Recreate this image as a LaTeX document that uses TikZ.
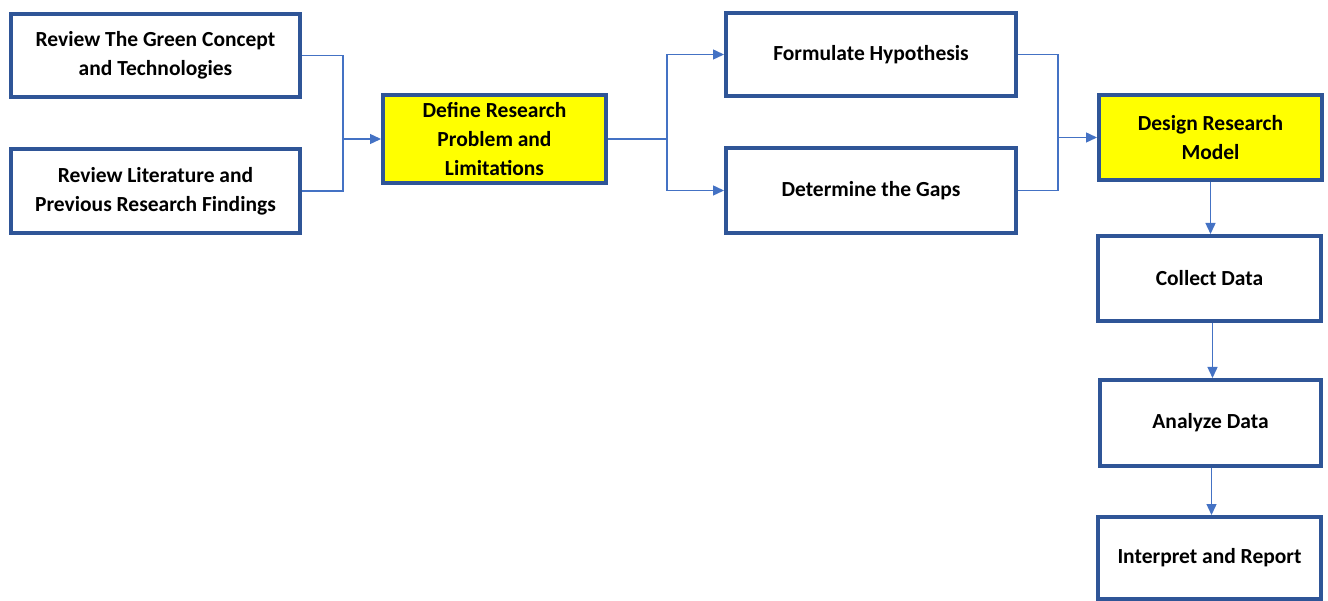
\documentclass[tikz,border=0pt]{standalone}
\usepackage{fontspec}
\setmainfont{Carlito}
\usetikzlibrary{arrows.meta}
\definecolor{boxblue}{HTML}{2F5597}
\definecolor{linkblue}{HTML}{4472C4}
\definecolor{hl}{HTML}{FFFF00}
\begin{document}
\begin{tikzpicture}[x=1pt,y=-1pt,
  box/.style={draw=boxblue, line width=4pt, fill=white, inner sep=0pt, align=center,
    font=\bfseries\fontsize{21.5}{29}\selectfont},
  yel/.style={box, fill=hl},
  link/.style={draw=linkblue, line width=1.4pt},
  arr/.style={link, -{Triangle[length=11pt,width=10pt]}}]
\useasboundingbox (0,0) rectangle (1328,601);
\node[box, minimum width=289pt, minimum height=83pt] (b1) at (155.5,55.5) {Review The Green Concept\\and Technologies};
\node[box, minimum width=289pt, minimum height=84pt] (b2) at (155.5,191) {Review Literature and\\Previous Research Findings};
\node[yel, minimum width=223pt, minimum height=88pt] (def) at (494.5,139) {Define Research\\Problem and\\Limitations};
\node[box, minimum width=290pt, minimum height=83pt] (form) at (871,54.5) {Formulate Hypothesis};
\node[box, minimum width=290pt, minimum height=85pt] (gaps) at (871,190.5) {Determine the Gaps};
\node[yel, minimum width=223pt, minimum height=85pt] (des) at (1210.5,137.5) {Design Research\\Model};
\node[box, minimum width=223pt, minimum height=85pt] (col) at (1209.5,278.5) {Collect Data};
\node[box, minimum width=221pt, minimum height=86pt] (ana) at (1210.5,423) {Analyze Data};
\node[box, minimum width=223pt, minimum height=82pt] (int) at (1209.5,558) {Interpret and Report};
\coordinate (j1) at (343,139);
\coordinate (j2) at (667,139);
\coordinate (j3) at (1058,137.5);
\draw[link] (b1.east) -| (j1);
\draw[link] (b2.east) -| (j1);
\draw[arr] (j1) -- (def.west);
\draw[link] (def.east) -- (j2);
\draw[arr] (j2) |- (form.west);
\draw[arr] (j2) |- (gaps.west);
\draw[link] (form.east) -| (j3);
\draw[link] (gaps.east) -| (j3);
\draw[arr] (j3) -- (des.west);
\draw[arr] (des.south) -- (des.south |- col.north);
\draw[arr] ([xshift=3pt]col.south) -- ([xshift=3pt]col.south |- ana.north);
\draw[arr] ([xshift=1pt]ana.south) -- ([xshift=1pt]ana.south |- int.north);
\end{tikzpicture}
\end{document}
